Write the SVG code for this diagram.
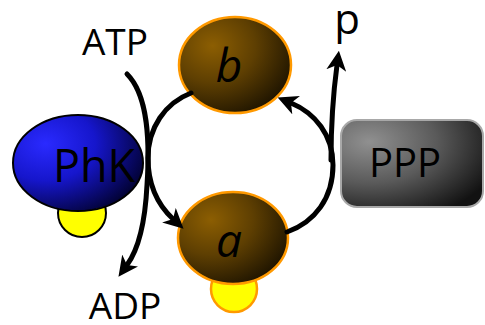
<svg xmlns="http://www.w3.org/2000/svg" width="485" height="325" viewBox="0 0 485 325">
  <defs>
    <radialGradient id="gBlue" cx="0.25" cy="0.3" r="0.85" fx="0.25" fy="0.3">
      <stop offset="0" stop-color="#2a2aff"/>
      <stop offset="0.45" stop-color="#1616cc"/>
      <stop offset="1" stop-color="#000028"/>
    </radialGradient>
    <radialGradient id="gBrown" cx="0.3" cy="0.3" r="0.85" fx="0.3" fy="0.3">
      <stop offset="0" stop-color="#8c5e02"/>
      <stop offset="0.45" stop-color="#5e3f02"/>
      <stop offset="1" stop-color="#140d00"/>
    </radialGradient>
    <radialGradient id="gGrey" cx="0.2" cy="0.25" r="0.95" fx="0.2" fy="0.25">
      <stop offset="0" stop-color="#909090"/>
      <stop offset="0.5" stop-color="#5a5a5a"/>
      <stop offset="1" stop-color="#121212"/>
    </radialGradient>
    <marker id="head" markerUnits="userSpaceOnUse" markerWidth="20" markerHeight="20" viewBox="0 0 18 18" refX="5" refY="9" orient="auto">
      <path d="M0,0 L18,9 L0,18 L5,9 Z" fill="#000"/>
    </marker>
    <style>
      .lbl { font-family: "Open Sans", "Noto Sans", "Liberation Sans", sans-serif; fill: #000; text-anchor: middle; }
      .it { font-style: italic; }
      .sub { fill: #ffff00; }
      .kin { stroke: #000; stroke-width: 2; }
      .form { stroke: #ff9900; stroke-width: 2.5; }
      .flow { fill: none; stroke: #000; stroke-width: 5; stroke-linecap: round; }
    </style>
  </defs>

  <rect width="485" height="325" fill="#ffffff"/>

  <!-- kinase -->
  <g id="phk">
    <circle class="sub kin" cx="82" cy="213" r="24"/>
    <ellipse cx="78" cy="163" rx="65" ry="48" fill="url(#gBlue)" class="kin"/>
    <text class="lbl" x="94" y="182" font-size="45">PhK</text>
  </g>

  <!-- phosphorylase b -->
  <g id="form-b">
    <ellipse class="form" cx="235" cy="65" rx="56" ry="48" fill="url(#gBrown)"/>
    <text class="lbl it" x="229" y="82" font-size="46">b</text>
  </g>

  <!-- phosphorylase a -->
  <g id="form-a">
    <circle class="sub form" cx="234" cy="289" r="23"/>
    <ellipse class="form" cx="233" cy="238" rx="55" ry="46" fill="url(#gBrown)"/>
    <text class="lbl it" x="229" y="257" font-size="46">a</text>
  </g>

  <!-- phosphatase -->
  <g id="ppp">
    <rect x="341" y="120" width="142" height="87" rx="16" ry="16" fill="url(#gGrey)" stroke="#a8a8a8" stroke-width="2"/>
    <text class="lbl" x="405" y="177" font-size="40">PPP</text>
  </g>

  <!-- small-molecule labels -->
  <g id="atp"><text class="lbl" x="115" y="55" font-size="37">ATP</text></g>
  <g id="adp"><text class="lbl" x="125" y="319" font-size="37">ADP</text></g>
  <g id="pi"><text class="lbl" x="347" y="34" font-size="42">p</text></g>

  <!-- reactions -->
  <g id="connectors">
    <path class="flow" d="M127,74 C148,95 150,140 147,185 C145,225 138,250 127,265" marker-end="url(#head)"/>
    <path class="flow" d="M191,93 C165,103 148,128 148,158 C148,185 158,205 173,219" marker-end="url(#head)"/>
    <path class="flow" d="M287,232 C315,222 333,198 333,165 C333,135 315,113 291,103" marker-end="url(#head)"/>
    <path class="flow" d="M331,160 C331,120 333,95 337,65" marker-end="url(#head)"/>
  </g>
</svg>
